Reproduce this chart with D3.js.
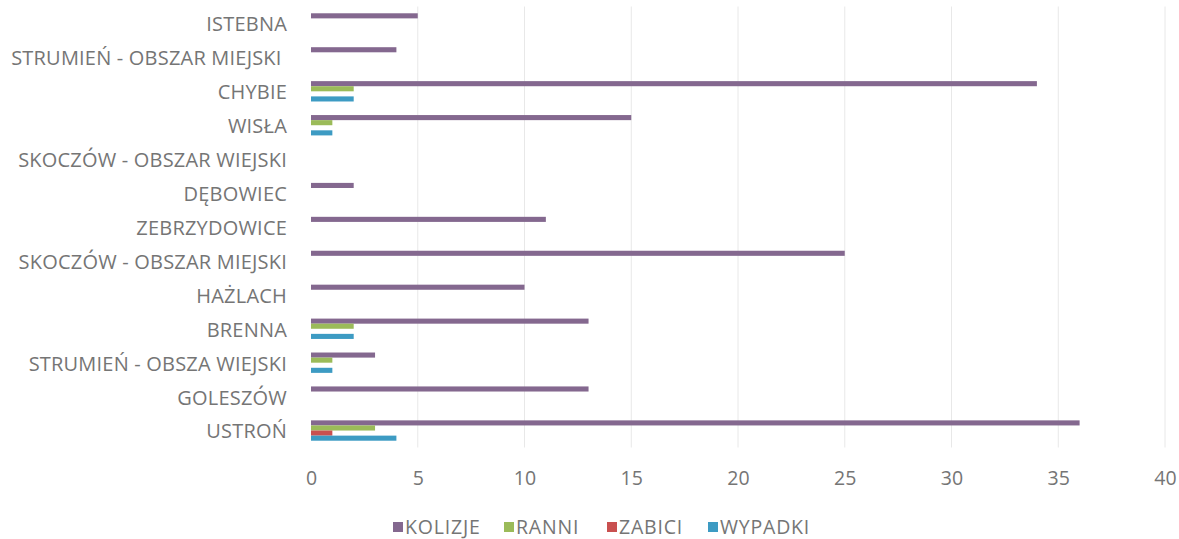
<!DOCTYPE html>
<html>
<head>
<meta charset="utf-8">
<script src="https://cdn.jsdelivr.net/npm/d3@7"></script>
<style>
  body { margin: 0; background: #fff; }
  text { font-family: "Open Sans", "Liberation Sans", sans-serif; }
</style>
</head>
<body>
<div id="chart"></div>
<script>
// data
let categories = ["ISTEBNA", "STRUMIEŃ - OBSZAR MIEJSKI ", "CHYBIE", "WISŁA", "SKOCZÓW - OBSZAR WIEJSKI",
  "DĘBOWIEC", "ZEBRZYDOWICE", "SKOCZÓW - OBSZAR MIEJSKI", "HAŻLACH", "BRENNA",
  "STRUMIEŃ - OBSZA WIEJSKI", "GOLESZÓW", "USTROŃ"];
let seriesNames = ["KOLIZJE", "RANNI", "ZABICI", "WYPADKI"];
let kolizje = [5, 4, 34, 15, 0, 2, 11, 25, 10, 13, 3, 13, 36];
let ranni   = [0, 0, 2, 1, 0, 0, 0, 0, 0, 2, 1, 0, 3];
let zabici  = [0, 0, 0, 0, 0, 0, 0, 0, 0, 0, 0, 0, 1];
let wypadki = [0, 0, 2, 1, 0, 0, 0, 0, 0, 2, 1, 0, 4];
let xTicks = [0, 5, 10, 15, 20, 25, 30, 35, 40];

let colors = ["#84688f", "#9bbb59", "#c9504f", "#3d9bc3"];
let values = [kolizje, ranni, zabici, wypadki];

let width = 1179;
let height = 539;
let margin = {"top": 6.5, "bottom": 91.5, "left": 311, "right": 14};

let svg = d3.select("#chart")
  .append("svg")
  .attr("width", width)
  .attr("height", height);

let xScale = d3.scaleLinear()
  .domain([0, 40])
  .range([margin.left, width - margin.right]);

let yScale = d3.scaleBand()
  .domain(categories)
  .range([margin.top, height - margin.bottom])
  .paddingInner(0.4)
  .paddingOuter(0.2);

let inner = d3.scaleBand()
  .domain(seriesNames)
  .range([0, yScale.bandwidth()]);

// vertical grid
svg.append("g")
  .selectAll("line")
  .data(xTicks.slice(1))
  .enter()
  .append("line")
  .attr("x1", d => xScale(d))
  .attr("x2", d => xScale(d))
  .attr("y1", margin.top)
  .attr("y2", height - margin.bottom)
  .attr("stroke", "#e8e8e8")
  .attr("stroke-width", 1);

// x axis labels
let axisx = d3.axisBottom(xScale).tickValues(xTicks).tickSize(0).tickPadding(24);
let gx = svg.append("g")
  .attr("transform", "translate(0," + (height - margin.bottom) + ")")
  .call(axisx);
gx.select(".domain").remove();
gx.selectAll("text")
  .attr("fill", "#757575")
  .attr("font-size", "19.5px");

// y axis labels
let axisy = d3.axisLeft(yScale).tickSize(0).tickPadding(24);
let gy = svg.append("g")
  .attr("transform", "translate(" + margin.left + ",1.5)")
  .call(axisy);
gy.select(".domain").remove();
gy.selectAll("text")
  .attr("fill", "#757575")
  .attr("font-size", "20px")
  .attr("letter-spacing", "0.2px")
  .style("white-space", "pre");

// bars
seriesNames.forEach(function(name, s) {
  svg.append("g")
    .selectAll("rect")
    .data(values[s])
    .enter()
    .append("rect")
    .attr("x", xScale(0))
    .attr("y", (d, i) => yScale(categories[i]) + inner(name))
    .attr("width", d => xScale(d) - xScale(0))
    .attr("height", inner.bandwidth())
    .attr("fill", colors[s]);
});

// legend
let legendX = [393, 504, 607, 708];
let legend = svg.append("g")
  .selectAll("g")
  .data(seriesNames)
  .enter()
  .append("g")
  .attr("transform", (d, i) => "translate(" + legendX[i] + ",522)");
legend.append("rect")
  .attr("width", 10)
  .attr("height", 10)
  .attr("fill", (d, i) => colors[i]);
legend.append("text")
  .attr("x", 12)
  .attr("y", 12)
  .attr("fill", "#757575")
  .attr("font-size", "19.5px")
  .attr("letter-spacing", "0.8px")
  .text(d => d);
</script>
</body>
</html>
